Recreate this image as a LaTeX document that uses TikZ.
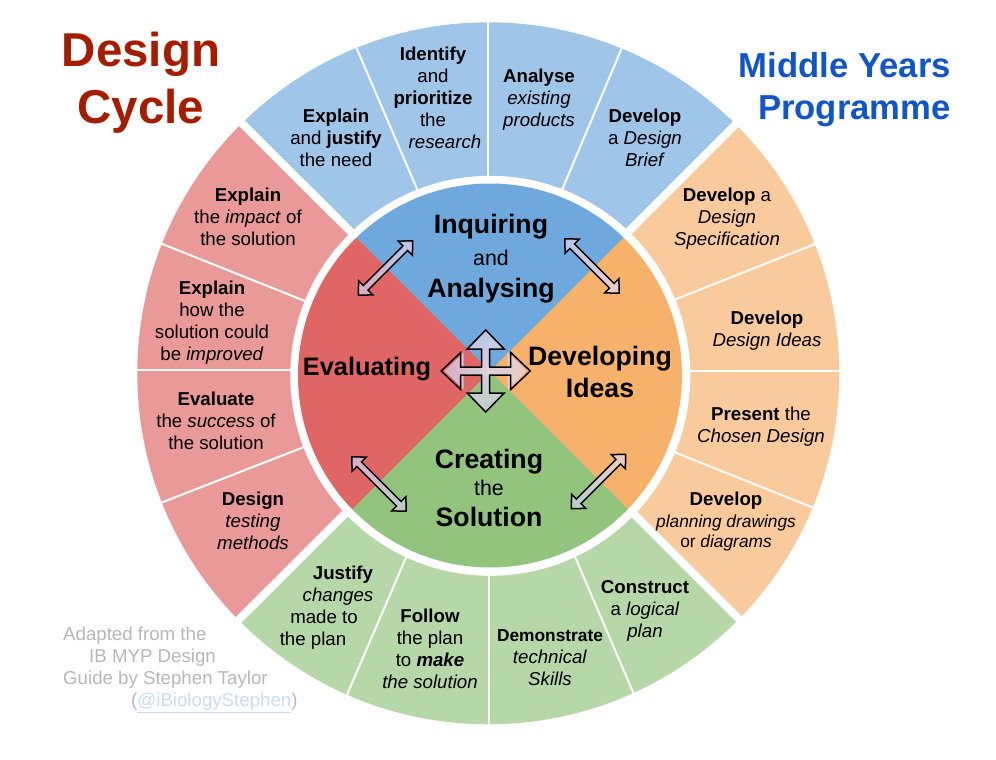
\documentclass[tikz,border=0pt]{standalone}
\usepackage{fontspec}
\setmainfont{Liberation Sans}
\usetikzlibrary{positioning}
\definecolor{ringblue}{HTML}{9FC5E8}
\definecolor{ringorange}{HTML}{F9CB9C}
\definecolor{ringgreen}{HTML}{B6D7A8}
\definecolor{ringred}{HTML}{EA9999}
\definecolor{quadblue}{HTML}{6FA8DC}
\definecolor{quadorange}{HTML}{F6B26B}
\definecolor{quadgreen}{HTML}{93C47D}
\definecolor{quadred}{HTML}{E06666}
\definecolor{titlered}{HTML}{A61C00}
\definecolor{titleblue}{HTML}{1155CC}
\definecolor{creditgray}{HTML}{B7B7B7}
\definecolor{creditlink}{HTML}{C9DAF8}
\definecolor{tipblue}{HTML}{B9C6E6}
\definecolor{tippink}{HTML}{D9ADC6}
\definecolor{tippeach}{HTML}{E9CCC6}
\definecolor{tipgray}{HTML}{BCCDC6}
\definecolor{tipmid}{HTML}{D9D2DC}
\newcommand{\fs}[1]{\fontsize{#1}{22}\selectfont}

\begin{document}
\begin{tikzpicture}[
			x=1pt, y=1pt,
			seg/.style={font=\fs{18.67}, align=center, inner sep=0pt, text=black},
			quad/.style={font=\fs{26.67}\bfseries, align=center, inner sep=0pt},
			word/.style={font=\fs{21.33}, inner sep=0pt},
			outline/.style={draw=black, line width=1.5pt, line join=miter}]

			\useasboundingbox (0,0) rectangle (996,-760);

			\begin{scope}
				\clip (488.3,-373.3) circle[radius=351];
				\foreach \dx/\dy/\ex/\ey/\ringcol in {-1/1/1/1/ringblue, 1/1/1/-1/ringorange, 1/-1/-1/-1/ringgreen, -1/-1/-1/1/ringred}
					\fill[\ringcol, shift={(489,-370)}] (0,0) -- (\dx*500,\dy*500) -- (\ex*500,\ey*500) -- cycle;
			\end{scope}
			\foreach \xa/\ya/\xb/\yb in {356.7/48.3/416.7/188.3, 488.3/22.7/488.3/175.7, 621.7/48.3/562.7/188.3,
				162.3/244/305/301, 137.3/370.3/290.7/370.3, 162.3/502.3/303.3/447.3,
				815/244/675.7/299.3, 839.3/370.7/690/370.7, 812.3/507.3/675.7/452.7,
				347.3/694/405.7/558.3, 488.7/724/488.7/576, 633.3/692.7/575.7/558.3}
				\draw[white, line width=2pt, shorten <=-3pt, shorten >=-3pt] (\xa,-\ya) -- (\xb,-\yb);
			\foreach \xa/\ya/\xb/\yb in {232.2/113.5/381/262, 746/114/598/262, 229/629.5/375/484, 749/629/605/485}
				\draw[white, line width=8pt] (\xa,-\ya) -- (\xb,-\yb);
			\fill[white] (490.3,-375.8) circle[radius=200];
			\begin{scope}
				\clip (490,-375.5) circle[radius=192];
				\foreach \dx/\dy/\ex/\ey/\quadcol in {-1/1/1/1/quadblue, 1/1/1/-1/quadorange, 1/-1/-1/-1/quadgreen, -1/-1/-1/1/quadred}
					\fill[\quadcol, shift={(490,-371.4)}] (0,0) -- (\dx*300,\dy*300) -- (\ex*300,\ey*300) -- cycle;
			\end{scope}

			\node[font=\fontsize{47.5}{57}\selectfont\bfseries, text=titlered, align=center, inner sep=0pt] (designTitle) at (141,-82.5) {Design\\Cycle};
			\node[font=\fontsize{34.67}{42}\selectfont\bfseries, text=titleblue, align=right, inner sep=0pt, anchor=east] (mypTitle) at (951,-90) {Middle Years\\Programme};

			\node[seg] (explainNeed) at (336,-138) {\textbf{Explain}\\and \textbf{justify}\\the need};
			\node[seg] (identify) at (433,-98) {\textbf{Identify}\\and\\\textbf{prioritize}\\the\\\hspace*{24pt}\textit{research}};
			\node[seg] (analyse) at (539,-99.5) {\textbf{Analyse}\\\textit{existing}\\\textit{products}};
			\node[seg] (designBrief) at (645,-138) {\textbf{Develop}\\a \textit{Design}\\\textit{Brief}};

			\node[seg] (designSpec) at (727,-219) {\textbf{Develop} a\\\textit{Design}\\\textit{Specification}};
			\node[seg] (designIdeas) at (767,-331) {\textbf{Develop}\\\textit{Design Ideas}};
			\node[seg] (chosenDesign) at (761,-427) {\textbf{Present} the\\\textit{Chosen Design}};
			\node[seg] (planDraw) at (726,-522) {\textbf{Develop}\\{\fs{17.33}\textit{planning drawings}}\\[-2pt]{\fs{17.33}or \textit{diagrams}}};

			\node[seg] (construct) at (645,-611) {\textbf{Construct}\\a \textit{logical}\\\textit{plan}};
			\node[seg] (demonstrate) at (550,-658) {{\fs{17.33}\textbf{Demonstrate}}\\\textit{technical}\\\textit{Skills}};
			\node[seg] (followPlan) at (430,-648.5) {\textbf{Follow}\\the plan\\to \textbf{\textit{make}}\\\textit{the solution}};
			\node[seg] (justifyPlan) at (328,-608) {\hspace*{30pt}\textbf{Justify}\\\hspace*{20pt}\textit{changes}\\\hspace*{-8pt}made to\\\hspace*{-30pt}the plan};

			\node[seg] (testMethods) at (253,-521) {\textbf{Design}\\\textit{testing}\\\textit{methods}};
			\node[seg] (evalSuccess) at (216,-421) {\textbf{Evaluate}\\the \textit{success} of\\the solution};
			\node[seg] (howImprove) at (212,-323) {\textbf{Explain}\\how the\\solution could\\be \textit{improved}};
			\node[seg] (impact) at (248,-217) {\textbf{Explain}\\the \textit{impact} of\\the solution};

			\node[quad] (inquiring) at (491,-227) {Inquiring};
			\node[word] (andWord) at (491,-258) {and};
			\node[quad] (analysing) at (491,-291) {Analysing};
			\node[quad, font=\fontsize{26.67}{32}\selectfont\bfseries] (developing) at (600,-372) {Developing\\Ideas};
			\node[quad, font=\fs{25.33}\bfseries] (evaluating) at (367,-369) {Evaluating};
			\node[quad] (creating) at (489,-462) {Creating};
			\node[word] (theWord) at (489,-488) {the};
			\node[quad] (solution) at (489,-517) {Solution};

			\foreach \ax/\ay/\ang/\hicol/\locol in {385.5/268/-45/tipblue/tippink, 592/266/45/tipblue/tippeach, 379/484/45/tippink/tipgray, 598.5/481.5/-45/tippeach/tipgray}
				\draw[outline, shift={(\ax,-\ay)}, rotate=\ang, shading=axis, top color=\hicol, bottom color=\locol, shading angle=\ang]
					(3.3,-28) -- (10,-28) -- (0,-38.5) -- (-10,-28) -- (-3.3,-28) -- (-3.3,28) -- (-10,28) -- (0,38.5) -- (10,28) -- (3.3,28) -- cycle;

			\begin{scope}[shift={(485.7,-371)}]
				\foreach \ang/\tipcol in {0/tipblue, 90/tippink, 180/tipgray, 270/tippeach}
					\shade[rotate=\ang, shading=axis, top color=\tipcol, bottom color=tipmid, shading angle=\ang]
						(-4,-4) -- (-4,22) -- (-18.5,22) -- (0,41) -- (18.5,22) -- (4,22) -- (4,-4) -- cycle;
				\draw[outline]
					(4,4) -- (25,4) -- (25,18.5) -- (44.5,0) -- (25,-18.5) -- (25,-4) -- (4,-4)
					-- (4,-22) -- (18.5,-22) -- (0,-41) -- (-18.5,-22) -- (-4,-22) -- (-4,-4)
					-- (-25,-4) -- (-25,-18.5) -- (-44.5,0) -- (-25,18.5) -- (-25,4) -- (-4,4)
					-- (-4,22) -- (-18.5,22) -- (0,41) -- (18.5,22) -- (4,22) -- cycle;
			\end{scope}

			\node[font=\fs{18.67}, text=creditgray, align=left, inner sep=0pt, anchor=north west] (credit) at (63,-627) {Adapted from the\\\hspace*{26pt}IB MYP Design\\Guide by Stephen Taylor\\\hspace*{68pt}(\textcolor{creditlink}{\underline{@iBiologyStephen}})};
		\end{tikzpicture}
\end{document}
